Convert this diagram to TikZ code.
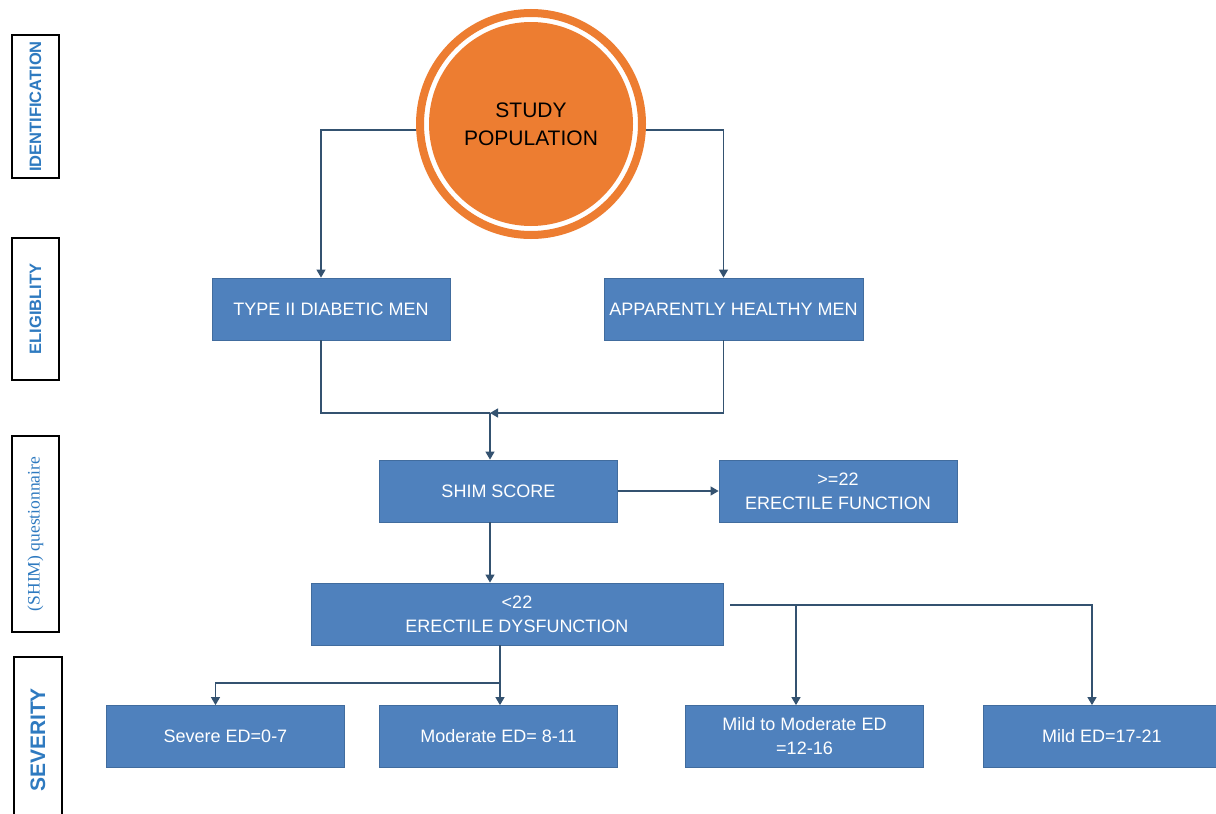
\documentclass[tikz,border=0pt]{standalone}
\usepackage{fontspec}
\setmainfont{Liberation Sans}
\newfontfamily\shimserif{Liberation Serif}
\definecolor{StudyOrange}{RGB}{237, 125, 49}
\definecolor{StepBlue}{RGB}{79, 129, 189}
\definecolor{StepEdge}{RGB}{65, 108, 158}
\definecolor{LinkSlate}{RGB}{52, 82, 112}
\definecolor{PhaseBlue}{RGB}{46, 122, 192}
\usetikzlibrary{arrows.meta, positioning, calc}

\tikzset{
  stepbox/.style={rectangle, fill=StepBlue, draw=StepEdge, line width=0.8pt, text=white,
    minimum width=238pt, minimum height=62pt, inner sep=0pt, align=center,
    font=\fontsize{18}{24}\selectfont},
  phase/.style={rectangle, draw=black, line width=1.6pt, rotate=90, minimum height=47pt,
    inner sep=0pt, text=PhaseBlue, font=\bfseries\fontsize{16.5}{19}\selectfont},
  link/.style={draw=LinkSlate, line width=1.2pt},
  arrow/.style={link, -{Triangle[width=9pt, length=8pt]}},
}

\begin{document}
\begin{tikzpicture}[x=1pt, y=-1pt]
  \useasboundingbox (0,0) rectangle (1216,814);
  \clip (0,0) rectangle (1216,814);
  \fill[white] (0,0) rectangle (1216,814);

  % phase labels on the left
  \node[phase, minimum width=143pt] (ident) at (35.5,106.5) {IDENTIFICATION};
  \node[phase, minimum width=142pt] (elig) at (35.5,309) {ELIGIBLITY};
  \node[phase, minimum width=196pt, font=\shimserif\fontsize{17.5}{20}\selectfont] (quest) at (35.5,534) {(SHIM) questionnaire};
  \node[phase, minimum width=166pt, minimum height=48pt, font=\bfseries\fontsize{21}{24}\selectfont] (sev) at (38,740) {SEVERITY};

  % study population
  \node[circle, draw=StudyOrange, line width=8pt, fill=white, minimum size=222pt, inner sep=0pt,
    path picture={\fill[StudyOrange] (path picture bounding box.center) circle (102pt);},
    align=center, font=\fontsize{21}{28}\selectfont] (pop) at (531,124) {STUDY\\POPULATION};

  % eligibility
  \node[stepbox] (diab) at (331,309) {TYPE II DIABETIC MEN};
  \node[stepbox, minimum width=259pt] (healthy) at (733.5,309) {APPARENTLY HEALTHY MEN};

  % shim
  \node[stepbox] (shim) at (498.5,491) {SHIM SCORE};
  \node[stepbox] (func) at (838,491) {>=22\\ERECTILE FUNCTION};
  \node[stepbox, minimum width=412pt] (dys) at (517,614) {<22\\ERECTILE DYSFUNCTION};

  % severity
  \node[stepbox] (severe) at (225.5,736.5) {Severe ED=0-7};
  \node[stepbox] (moderate) at (498.5,736.5) {Moderate ED= 8-11};
  \node[stepbox] (mildmod) at (804.5,736.5) {Mild to Moderate ED\\=12-16};
  \node[stepbox] (mild) at (1102,736.5) {Mild ED=17-21};

  \coordinate (merge) at (490,413);
  \coordinate (split) at (500,683);
  \coordinate (tap) at (796,605);
  \coordinate (dysout) at ([shift={(7pt,9pt)}]dys.east);

  \draw[arrow] (pop.183) -| ([xshift=-10pt]diab.north);
  \draw[arrow] (pop.357) -| ([xshift=-10pt]healthy.north);
  \draw[link] ([xshift=-10pt]diab.south) |- (merge);
  \draw[arrow] ([xshift=-10pt]healthy.south) |- (merge);
  \draw[arrow] (merge) -- (merge |- shim.north);
  \draw[arrow] (shim.east) -- (func.west);
  \draw[arrow] (merge |- shim.south) -- (merge |- dys.north);
  \draw[link] (split |- dys.south) -- (split);
  \draw[arrow] (split) -| ([xshift=-10pt]severe.north);
  \draw[arrow] (split) -- (split |- moderate.north);
  \draw[arrow] (dysout) -| ([xshift=-10pt]mild.north);
  \draw[arrow] (tap) -- (tap |- mildmod.north);
\end{tikzpicture}
\end{document}
